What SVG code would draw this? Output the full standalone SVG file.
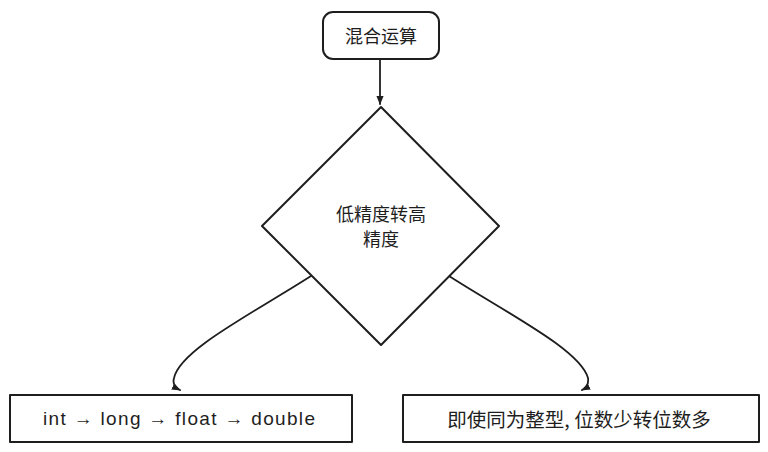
<svg xmlns="http://www.w3.org/2000/svg" width="768" height="452" viewBox="0 0 768 452">
<defs>
<style>
.shape{fill:#fff;stroke:#1e1e1e;stroke-width:2;stroke-linejoin:round}
.conn{fill:none;stroke:#1e1e1e;stroke-width:1.8;stroke-linecap:round}
.t{font-family:"Noto Sans CJK SC","Noto Sans",sans-serif;font-size:18px;fill:#1e1e1e;text-anchor:middle;dominant-baseline:central}
</style>
<marker id="ah" viewBox="0 0 10 10" refX="9" refY="5" markerWidth="9" markerHeight="9" orient="auto-start-reverse" markerUnits="userSpaceOnUse">
<path d="M0,1 L10,5 L0,9 Z" fill="#1e1e1e"/>
</marker>
</defs>
<rect width="768" height="452" fill="#fff"/>
<g id="connectors">
<path class="conn" d="M380,60 L380,104" marker-end="url(#ah)"/>
<path class="conn" d="M311,276 C250,315 180,350 174,378 C172,385 176,388 180,390" marker-end="url(#ah)"/>
<path class="conn" d="M449,276 C510,315 580,350 588,378 C589,385 586,388 582,390" marker-end="url(#ah)"/>
</g>
<g id="node-start">
<rect class="shape" x="323" y="12" width="116" height="47" rx="10"/>
<text class="t" x="381" y="35">混合运算</text>
</g>
<g id="node-decision">
<path class="shape" d="M381,107 L499,226 L381,345 L262,226 Z"/>
<text class="t" x="381" y="213">低精度转高</text>
<text class="t" x="381" y="238">精度</text>
</g>
<g id="node-left">
<rect class="shape" x="10" y="395" width="342" height="47"/>
<text class="t" x="179" y="418" textLength="272" lengthAdjust="spacing" style="font-family:'Liberation Sans',sans-serif;font-size:19px">int → long → float → double</text>
</g>
<g id="node-right">
<rect class="shape" x="403" y="395" width="356" height="47"/>
<text class="t" x="579" y="418" style="font-size:19.5px">即使同为整型, 位数少转位数多</text>
</g>
</svg>
